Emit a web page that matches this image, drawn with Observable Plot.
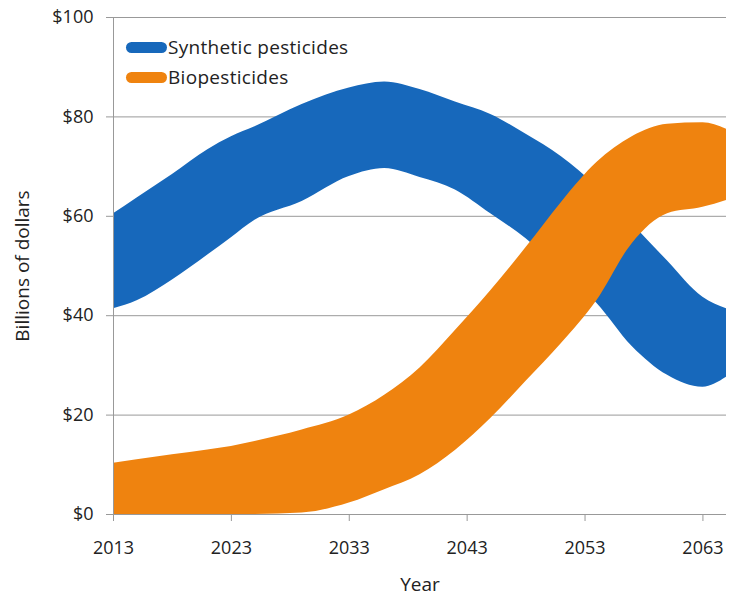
<!DOCTYPE html>
<html><head><meta charset="utf-8">
<script src="https://cdn.jsdelivr.net/npm/d3@7"></script>
<script src="https://cdn.jsdelivr.net/npm/@observablehq/plot@0.6"></script>
<style>
body{margin:0;background:#fff;font-family:"Open Sans",Lato,sans-serif}
#wrap{position:relative;width:729px;height:596px}
.legend{position:absolute;left:126px;top:32px;font-size:19px;color:#222;line-height:30px;letter-spacing:0.3px}
.item{display:flex;align-items:center}
.sw{width:41px;height:11px;border-radius:6px;margin-right:1px}
</style></head>
<body><div id="wrap"></div>
<script>
const years     = [2013,2015,2018,2021,2023,2025,2029,2033,2036,2039,2042,2045,2048,2051,2054,2057,2060,2063,2065];
const synthLow  = [41.4,43,47.2,52.2,55.7,59.2,63,68,69.6,67.8,65.3,60.5,55.5,49,42.5,33.8,28,25.6,27.6];
const synthHigh = [60.5,63.7,68.4,73.4,76,78,82.5,85.8,87,85.5,83,80.5,76.5,72,66,58.5,51,43.7,41.4];
const bioLow    = [0,0,0,0,0,0,0.3,2.3,5,8,12.9,19.3,26.8,34.4,43,54.5,60.5,61.8,63.2];
const bioHigh   = [10.3,11,12,13,13.7,14.7,17,20,24,29.5,37,45,53.7,62.8,70.8,76,78.5,78.8,77.5];
const seriesNames = ["Synthetic pesticides","Biopesticides"];
const colors = ["#1768bb","#ef830f"];
const yTicks = [0,20,40,60,80,100];
const xTicks = [2013,2023,2033,2043,2053,2063];

const synth = years.map((y,i)=>({year:y, lo:synthLow[i], hi:synthHigh[i]}));
const bio = years.map((y,i)=>({year:y, lo:bioLow[i], hi:bioHigh[i]}));

const chart = Plot.plot({
  width:729, height:596,
  marginLeft:113, marginRight:3, marginTop:17, marginBottom:82,
  style:{fontFamily:'"Open Sans",Lato,sans-serif', fontSize:"18px", color:"#222", background:"#fff"},
  x:{domain:[2013,2065]},
  y:{domain:[0,100]},
  marks:[
    Plot.gridY(yTicks.filter(d=>d>0), {stroke:"#999", strokeOpacity:1}),
    Plot.areaY(synth,{x:"year", y1:"lo", y2:"hi", fill:colors[0], curve:"monotone-x"}),
    Plot.areaY(bio,{x:"year", y1:"lo", y2:"hi", fill:colors[1], curve:"monotone-x"}),
    Plot.ruleY([0],{stroke:"#999"}),
    Plot.ruleX([2013],{stroke:"#999"}),
    Plot.axisY({ticks:yTicks, tickFormat:d=>"$"+d, tickSize:7, tickPadding:13, stroke:"#999", fontSize:18,
      label:"Billions of dollars", labelAnchor:"center", labelArrow:"none", labelOffset:98}),
    Plot.axisX({ticks:xTicks, tickFormat:d=>String(d), tickSize:7, tickPadding:20, stroke:"#999", fontSize:18,
      label:"Year", labelAnchor:"center", labelArrow:"none", labelOffset:76})
  ]
});
chart.querySelectorAll("g[aria-label='y-axis label'] text, g[aria-label='x-axis label'] text").forEach(t=>t.setAttribute("font-size","19"));
const wrap = document.getElementById("wrap");
wrap.appendChild(chart);
const lg = document.createElement("div");
lg.className="legend";
seriesNames.forEach((n,i)=>{
  const it=document.createElement("div"); it.className="item";
  const sw=document.createElement("span"); sw.className="sw"; sw.style.background=colors[i];
  const t=document.createElement("span"); t.textContent=n;
  it.appendChild(sw); it.appendChild(t); lg.appendChild(it);
});
wrap.appendChild(lg);
</script></body></html>
